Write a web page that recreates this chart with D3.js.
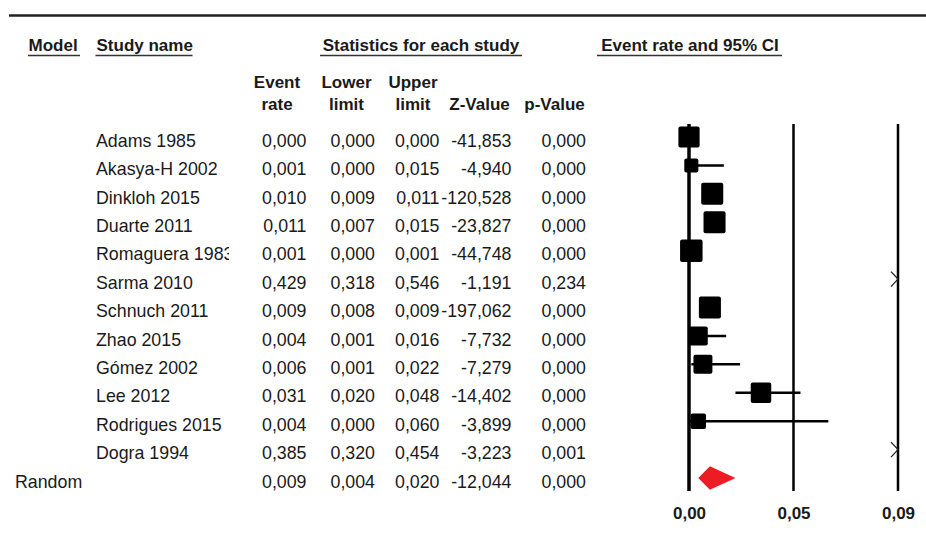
<!DOCTYPE html>
<html>
<head>
<meta charset="utf-8">
<script src="https://cdn.jsdelivr.net/npm/d3@7"></script>
<style>
  body { margin: 0; background: #fff; }
  svg { display: block; }
</style>
</head>
<body>
<div id="chart"></div>
<script>
// Study rows
const studies = ['Adams 1985', 'Akasya-H 2002', 'Dinkloh 2015', 'Duarte 2011', 'Romaguera 1983', 'Sarma 2010',
  'Schnuch 2011', 'Zhao 2015', 'Gómez 2002', 'Lee 2012', 'Rodrigues 2015', 'Dogra 1994'];
const eventRate = [0.000, 0.001, 0.010, 0.011, 0.001, 0.429, 0.009, 0.004, 0.006, 0.031, 0.004, 0.385];
const lowerLimit = [0.000, 0.000, 0.009, 0.007, 0.000, 0.318, 0.008, 0.001, 0.001, 0.020, 0.000, 0.320];
const upperLimit = [0.000, 0.015, 0.011, 0.015, 0.001, 0.546, 0.009, 0.016, 0.022, 0.048, 0.060, 0.454];
const zValue = [-41.853, -4.940, -120.528, -23.827, -44.748, -1.191, -197.062, -7.732, -7.279, -14.402, -3.899, -3.223];
const pValue = [0.000, 0.000, 0.000, 0.000, 0.000, 0.234, 0.000, 0.000, 0.000, 0.000, 0.000, 0.001];
// relative weights (estimated from square sizes)
const weights = [8.9, 3.9, 9.6, 9.6, 10.0, 9.0, 9.6, 7.1, 7.1, 8.3, 4.7, 9.2];

// Pooled row
const summaryModel = 'Random';
const summaryStats = [0.009, 0.004, 0.020, -12.044, 0.000]; // rate, lower, upper, Z, p

// Axis
const tickValues = [0, 0.045, 0.09];
const tickLabels = ['0,00', '0,05', '0,09'];

const W = 926, H = 538;
const font = "'Liberation Sans', Arial, sans-serif";
const ink = '#1a1a1a';

const loc = d3.formatLocale({ decimal: ',', thousands: '.', grouping: [3], currency: ['', ''], minus: '-' });
const fmt = loc.format('.3f');

const svg = d3.select('#chart').append('svg')
  .attr('width', W).attr('height', H)
  .attr('viewBox', `0 0 ${W} ${H}`)
  .style('font-family', font);

svg.append('rect').attr('width', W).attr('height', H).attr('fill', '#fff');

// Scales
const nRows = studies.length + 1;
const y = d3.scaleLinear().domain([0, nRows - 1]).range([137, 478]);
const x = d3.scaleLinear().domain([0, 0.09]).range([689, 898]);
const size = d3.scaleSqrt().domain([0, 10]).range([0, 22.5]);

// Top rule
svg.append('line')
  .attr('x1', 9).attr('x2', W).attr('y1', 15.5).attr('y2', 15.5)
  .attr('stroke', '#222').attr('stroke-width', 2.5);

// Group headers with underlines
const groupHeaders = [
  { text: 'Model', x: 28.5, anchor: 'start', u: [28, 80] },
  { text: 'Study name', x: 96.5, anchor: 'start', u: [95.5, 192.5] },
  { text: 'Statistics for each study', x: 421, anchor: 'middle', u: [320, 522] },
  { text: 'Event rate and 95% CI', x: 690, anchor: 'middle', u: [597, 782] }
];
const gh = svg.append('g').attr('class', 'group-headers');
gh.selectAll('text').data(groupHeaders).join('text')
  .attr('x', d => d.x).attr('y', 50.5)
  .attr('text-anchor', d => d.anchor)
  .style('font-weight', 'bold').style('font-size', '17px')
  .attr('fill', ink)
  .text(d => d.text);
gh.selectAll('line').data(groupHeaders).join('line')
  .attr('x1', d => d.u[0]).attr('x2', d => d.u[1])
  .attr('y1', 55.5).attr('y2', 55.5)
  .attr('stroke', '#333').attr('stroke-width', 1.5);

// Column headers
const colRight = [306.5, 375, 439.5, 511.5, 586];
const colHeaders = [
  { l1: 'Event', l2: 'rate', cx: 277 },
  { l1: 'Lower', l2: 'limit', cx: 346.5 },
  { l1: 'Upper', l2: 'limit', cx: 413 },
  { l1: '', l2: 'Z-Value', cx: 479.5 },
  { l1: '', l2: 'p-Value', cx: 554.5 }
];
const ch = svg.append('g').attr('class', 'col-headers')
  .style('font-weight', 'bold').style('font-size', '17px')
  .attr('fill', ink).attr('text-anchor', 'middle');
ch.selectAll('.l1').data(colHeaders).join('text').attr('class', 'l1')
  .attr('x', d => d.cx).attr('y', 88).text(d => d.l1);
ch.selectAll('.l2').data(colHeaders).join('text').attr('class', 'l2')
  .attr('x', d => d.cx).attr('y', 110).text(d => d.l2);

// Table rows
const rows = studies.map((name, i) => ({
  name, i,
  vals: [eventRate[i], lowerLimit[i], upperLimit[i], zValue[i], pValue[i]],
  est: eventRate[i], lo: lowerLimit[i], hi: upperLimit[i], w: weights[i]
}));

// study names are cut at the column edge, as in the source
svg.append('clipPath').attr('id', 'name-clip')
  .append('rect').attr('x', 0).attr('y', 0).attr('width', 229).attr('height', H);

const table = svg.append('g').attr('class', 'table')
  .style('font-size', '17.8px').attr('fill', ink);

table.append('g').attr('clip-path', 'url(#name-clip)')
  .selectAll('text').data(rows).join('text')
  .attr('x', 96).attr('y', d => y(d.i) + 9.7)
  .text(d => d.name);

const cells = [];
rows.forEach(r => r.vals.forEach((v, c) => cells.push({ i: r.i, c, v })));
summaryStats.forEach((v, c) => cells.push({ i: nRows - 1, c, v }));
table.selectAll('.cell').data(cells).join('text').attr('class', 'cell')
  .attr('x', d => colRight[d.c]).attr('y', d => y(d.i) + 9.7)
  .attr('text-anchor', 'end')
  .text(d => fmt(d.v));

table.append('text')
  .attr('x', 15).attr('y', y(nRows - 1) + 9.5)
  .text(summaryModel);

// Forest plot
const plot = svg.append('g').attr('class', 'plot');
const yTop = 124, yBot = 491;

plot.selectAll('.ref').data(tickValues).join('line').attr('class', 'ref')
  .attr('x1', d => x(d)).attr('x2', d => x(d))
  .attr('y1', yTop).attr('y2', yBot)
  .attr('stroke', '#000')
  .attr('stroke-width', d => d === 0 ? 3.5 : 2.5);

const onScale = rows.filter(d => d.est <= x.domain()[1]);
const offScale = rows.filter(d => d.est > x.domain()[1]);

plot.selectAll('.ci').data(onScale.filter(d => d.hi > d.lo)).join('line').attr('class', 'ci')
  .attr('x1', d => x(d.lo)).attr('x2', d => x(Math.min(d.hi, x.domain()[1])))
  .attr('y1', d => y(d.i)).attr('y2', d => y(d.i))
  .attr('stroke', '#000').attr('stroke-width', 2.5);

plot.selectAll('.sq').data(onScale).join('rect').attr('class', 'sq')
  .attr('x', d => x(d.est) - size(d.w) / 2)
  .attr('y', d => y(d.i) - size(d.w) / 2)
  .attr('width', d => size(d.w)).attr('height', d => size(d.w))
  .attr('rx', 2).attr('fill', '#000');

// arrows for estimates beyond the axis
const xMax = x(x.domain()[1]);
plot.selectAll('.arrow').data(offScale).join('path').attr('class', 'arrow')
  .attr('d', d => `M${xMax - 7},${y(d.i) - 7.5}L${xMax},${y(d.i)}L${xMax - 7},${y(d.i) + 7.5}`)
  .attr('fill', 'none').attr('stroke', '#222').attr('stroke-width', 1.3);

// Pooled diamond
const yr = y(nRows - 1);
const [sEst, sLo, sHi] = summaryStats;
plot.append('path')
  .attr('d', `M${x(sLo)},${yr}L${x(sEst)},${yr - 11.7}L${x(sHi)},${yr}L${x(sEst)},${yr + 11.7}Z`)
  .attr('fill', '#ed1c24');

// Axis labels
const axis = d3.axisBottom(x).tickValues(tickValues)
  .tickFormat((d, i) => tickLabels[i]).tickSize(0).tickPadding(0);
const axisG = svg.append('g').attr('transform', 'translate(0,507)').call(axis);
axisG.select('.domain').remove();
axisG.selectAll('text')
  .style('font-family', font).style('font-weight', 'bold').style('font-size', '17px')
  .attr('fill', ink).attr('dy', '0.71em');
</script>
</body>
</html>
